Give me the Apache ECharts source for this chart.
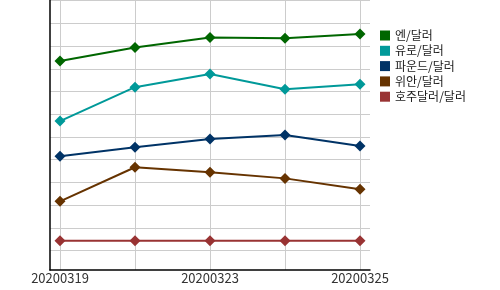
<!DOCTYPE html>
<html>
<head>
<meta charset="utf-8">
<script src="https://cdn.jsdelivr.net/npm/echarts@6/dist/echarts.min.js"></script>
<style>html,body{margin:0;padding:0;background:#fff}#c{width:500px;height:290px}</style>
</head>
<body>
<div id="c"></div>
<script>
var categories = ['20200319', '20200320', '20200323', '20200324', '20200325'];
var seriesNames = ['엔/달러', '유로/달러', '파운드/달러', '위안/달러', '호주달러/달러'];
var yen = [9.34, 9.94, 10.38, 10.34, 10.53];
var euro = [6.70, 8.19, 8.77, 8.10, 8.32];
var pound = [5.15, 5.55, 5.91, 6.09, 5.60];
var yuan = [3.17, 4.67, 4.45, 4.18, 3.70];
var aud = [1.44, 1.44, 1.44, 1.44, 1.44];
var colors = ['#006600', '#009999', '#003366', '#663300', '#993333'];

var values = [yen, euro, pound, yuan, aud];
function toPairs(arr) { return arr.map(function (v, i) { return [i, v]; }); }

var chart = echarts.init(document.getElementById('c'), null, { renderer: 'canvas' });
chart.setOption({
  animation: false,
  color: colors,
  textStyle: { fontFamily: 'Noto Sans CJK KR' },
  grid: { left: 50, right: 130, top: 0, bottom: 20, containLabel: false },
  legend: {
    orient: 'vertical', left: 380, top: 28, padding: 0,
    icon: 'rect', itemWidth: 10, itemHeight: 10, itemGap: 0.3,
    textStyle: { fontSize: 12, lineHeight: 15, color: '#1a1a1a', fontFamily: 'Noto Sans CJK KR' },
    data: seriesNames
  },
  xAxis: {
    type: 'value', min: -2 / 15, max: 4 + 2 / 15, splitNumber: 5,
    axisLine: { show: true, onZero: false, lineStyle: { color: '#000', width: 1.5 } },
    axisTick: { show: false },
    axisLabel: {
      margin: 2, fontSize: 13, color: '#333', fontFamily: 'Noto Sans CJK KR',
      showMinLabel: true, showMaxLabel: true,
      formatter: function (v) {
        var i = Math.round(v);
        if (Math.abs(v - i) > 1e-6 || i % 2 !== 0 || i < 0 || i >= categories.length) return '';
        return categories[i];
      }
    },
    splitLine: { show: true, showMinLine: false, showMaxLine: false, lineStyle: { color: '#cccccc', width: 1 } }
  },
  yAxis: {
    type: 'value', min: 0.151, max: 12.024, splitNumber: 12,
    axisLine: { show: true, onZero: false, lineStyle: { color: '#000', width: 1.5 } },
    axisTick: { show: false },
    axisLabel: { show: false },
    splitLine: { show: true, showMinLine: false, showMaxLine: false, lineStyle: { color: '#cccccc', width: 1 } }
  },
  series: seriesNames.map(function (n, k) {
    return {
      name: n, type: 'line', data: toPairs(values[k]),
      symbol: 'diamond', symbolSize: 11, showSymbol: true,
      lineStyle: { width: 2, color: colors[k] },
      itemStyle: { color: colors[k] }
    };
  })
});
</script>
</body>
</html>
